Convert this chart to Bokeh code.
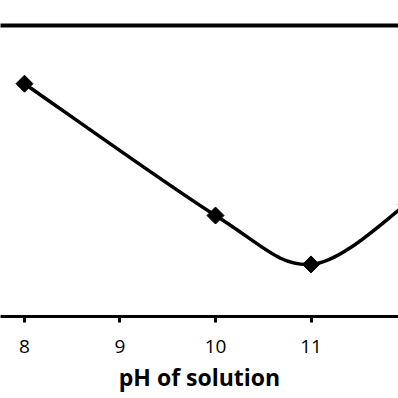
import math
from bokeh.plotting import figure
from bokeh.models import LinearAxis, FixedTicker
from bokeh.embed import file_html
from bokeh.resources import INLINE

# Data
ph = [8, 10, 11, 12]
response = [80.0, 34.7, 17.9, 38.5]
x_ticks = [8, 9, 10, 11, 12]
x_label = "pH of solution"

FONT = "Open Sans"

p = figure(width=398, height=398, output_backend="svg", toolbar_location=None,
           x_range=(7.749, 11.916), y_range=(0, 100),
           y_axis_location=None, x_axis_location="below",
           min_border_left=0, min_border_right=0,
           min_border_top=25, min_border_bottom=82)
p.outline_line_color = None
p.xgrid.visible = False
p.ygrid.visible = False
p.background_fill_color = "white"

ax = p.xaxis[0]
ax.ticker = FixedTicker(ticks=x_ticks)
ax.axis_line_width = 3
ax.axis_line_color = "black"
ax.major_tick_line_width = 3
ax.major_tick_line_color = "black"
ax.major_tick_out = 6
ax.major_tick_in = 0
ax.minor_tick_line_color = None
ax.major_label_text_font = FONT
ax.major_label_text_font_size = "19px"
ax.major_label_text_color = "black"
ax.major_label_standoff = 17
ax.axis_label = x_label
ax.axis_label_text_font = FONT
ax.axis_label_text_font_style = "bold"
ax.axis_label_text_font_size = "23px"
ax.axis_label_text_color = "black"
ax.axis_label_standoff = 5

top = LinearAxis(ticker=FixedTicker(ticks=[]), axis_line_width=4, axis_line_color="black",
                 major_tick_out=0, major_tick_in=0, minor_tick_out=0, minor_tick_in=0,
                 major_label_standoff=0, major_label_text_font_size="0px")
p.add_layout(top, "above")

# Smoothed line (Catmull-Rom style bezier through data points, like a spreadsheet smooth line)
n = len(ph)
x0, y0, x1, y1, cx0, cy0, cx1, cy1 = [], [], [], [], [], [], [], []
for i in range(n - 1):
    a = i - 1 if i > 0 else i
    d = i + 2 if i + 2 < n else i + 1
    x0.append(ph[i]); y0.append(response[i])
    x1.append(ph[i + 1]); y1.append(response[i + 1])
    cx0.append(ph[i] + (ph[i + 1] - ph[a]) / 6)
    cy0.append(response[i] + (response[i + 1] - response[a]) / 6)
    cx1.append(ph[i + 1] - (ph[d] - ph[i]) / 6)
    cy1.append(response[i + 1] - (response[d] - response[i]) / 6)

p.bezier(x0=x0, y0=y0, x1=x1, y1=y1, cx0=cx0, cy0=cy0, cx1=cx1, cy1=cy1,
         line_color="black", line_width=3.5)
p.scatter(ph, response, marker="square", angle=math.pi / 4, size=12,
          fill_color="black", line_color="black")

open("out.html", "w").write(file_html(p, INLINE))
